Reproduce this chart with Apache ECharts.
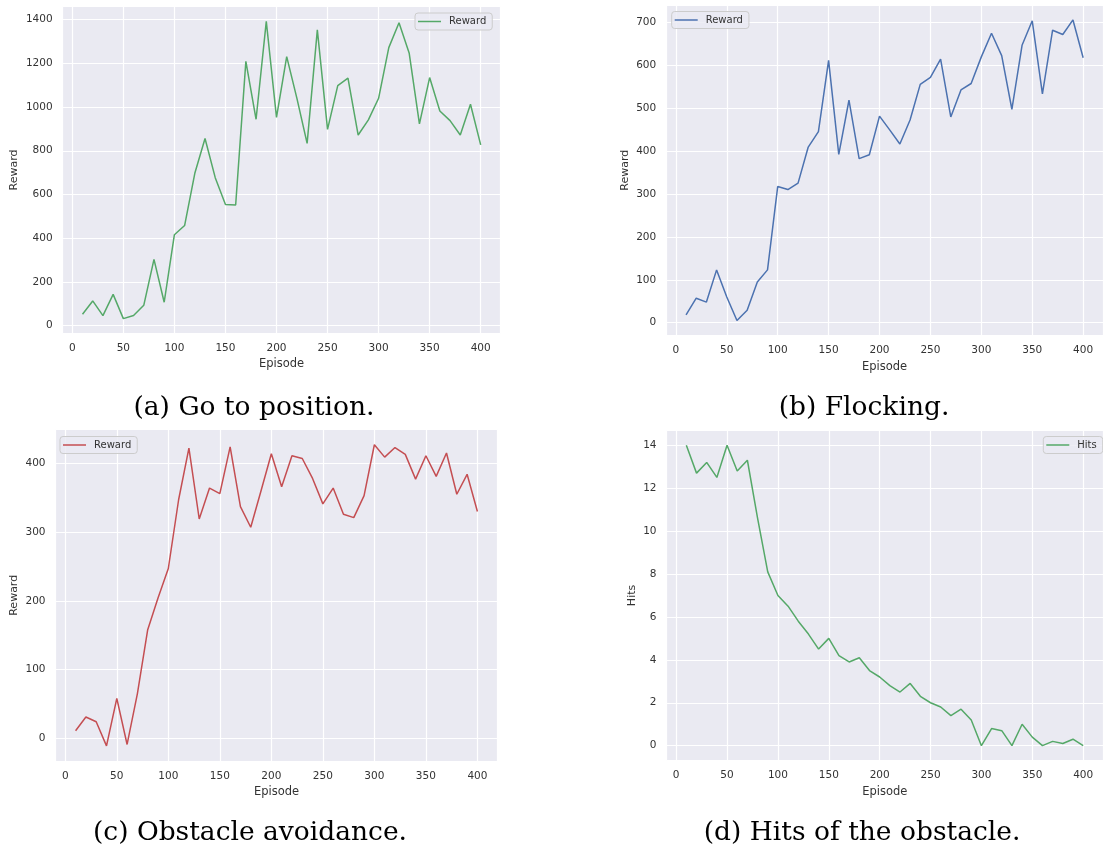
<!DOCTYPE html>
<html>
<head>
<meta charset="utf-8">
<script src="https://cdn.jsdelivr.net/npm/echarts@6/dist/echarts.min.js"></script>
<style>
  html, body { margin: 0; padding: 0; background: #fff; }
  #chart { width: 1103px; height: 850px; }
</style>
</head>
<body>
<div id="chart"></div>
<script>
// episodes 10..400
const episodes = [10, 20, 30, 40, 50, 60, 70, 80, 90, 100,
                  110, 120, 130, 140, 150, 160, 170, 180, 190, 200,
                  210, 220, 230, 240, 250, 260, 270, 280, 290, 300,
                  310, 320, 330, 340, 350, 360, 370, 380, 390, 400];

const rewardGoTo = [52, 113, 46, 143, 32, 46, 93, 303, 107, 416,
                    458, 697, 856, 677, 554, 552, 1209, 944, 1392, 953,
                    1231, 1040, 834, 1353, 898, 1098, 1132, 872, 941, 1040,
                    1272, 1386, 1246, 923, 1135, 982, 938, 872, 1013, 827];

const rewardFlocking = [18, 57, 48, 123, 60, 5, 29, 95, 123, 317,
                        310, 325, 409, 445, 611, 392, 518, 382, 391, 481,
                        449, 416, 472, 555, 571, 614, 479, 542, 557, 619,
                        674, 622, 497, 646, 703, 533, 681, 671, 705, 617];

const rewardObstacle = [11, 31, 24, -11, 58, -9, 65, 158, 204, 247,
                        347, 422, 319, 364, 356, 424, 337, 307, 360, 414,
                        366, 411, 407, 378, 341, 364, 326, 321, 353, 427,
                        409, 423, 413, 377, 411, 381, 415, 355, 384, 330];

const hitsObstacle = [14.0, 12.7, 13.2, 12.5, 14.0, 12.8, 13.3, 10.6, 8.1, 7.0,
                      6.5, 5.8, 5.2, 4.5, 5.0, 4.2, 3.9, 4.1, 3.5, 3.2,
                      2.8, 2.5, 2.9, 2.3, 2.0, 1.8, 1.4, 1.7, 1.2, 0.0,
                      0.8, 0.7, 0.0, 1.0, 0.4, 0.0, 0.2, 0.1, 0.3, 0.0];

const captions = ['(a) Go to position.', '(b) Flocking.', '(c) Obstacle avoidance.', '(d) Hits of the obstacle.'];

const GREEN = '#55a868', BLUE = '#4c72b0', RED = '#c44e52';
const textColor = '#333';

// matplotlib style autoscale: 5% padding on each side
function padded(values) {
    const lo = Math.min(...values), hi = Math.max(...values);
    const m = (hi - lo) * 0.05;
    return [lo - m, hi + m];
}

const panels = [
    { data: rewardGoTo, name: 'Reward', color: GREEN, split: 7, yGap: 43,
      grid: { left: 62.6, top: 6.5, width: 438, height: 327 },
      legend: { left: 415, top: 13 },
      caption: { x: 254, y: 408 } },
    { data: rewardFlocking, name: 'Reward', color: BLUE, split: 8, yGap: 36,
      grid: { left: 666.2, top: 4.9, width: 443.3, height: 330.7 },
      legend: { left: 671.7, top: 11.5 },
      caption: { x: 864, y: 408 } },
    { data: rewardObstacle, name: 'Reward', color: RED, split: 5, yGap: 36,
      grid: { left: 55.5, top: 429.7, width: 442, height: 331.2 },
      legend: { left: 60, top: 436.5 },
      caption: { x: 250, y: 833 } },
    { data: hitsObstacle, name: 'Hits', color: GREEN, split: 8, yGap: 29,
      grid: { left: 666.5, top: 430.2, width: 443, height: 330.5 },
      legend: { left: 1043.3, top: 436.5 },
      caption: { x: 862, y: 833 } }
];

const xExt = padded(episodes);

const option = {
    animation: false,
    backgroundColor: '#fff',
    grid: panels.map(p => Object.assign({
        show: true,
        backgroundColor: '#eaeaf2',
        borderWidth: 0
    }, p.grid)),
    xAxis: panels.map((p, i) => ({
        type: 'value',
        gridIndex: i,
        min: xExt[0],
        max: xExt[1],
        splitNumber: 8,
        name: 'Episode',
        nameLocation: 'middle',
        nameGap: 25,
        nameTextStyle: { color: textColor, fontSize: 11.5, fontFamily: 'DejaVu Sans' },
        axisLine: { show: false },
        axisTick: { show: false },
        axisLabel: {
            color: textColor, fontSize: 10.5, fontFamily: 'DejaVu Sans',
            margin: 9.5, showMinLabel: false, showMaxLabel: false,
            formatter: v => String(v)
        },
        splitLine: { show: true, lineStyle: { color: '#fff', width: 1.2 } }
    })),
    yAxis: panels.map((p, i) => {
        const ext = padded(p.data);
        return {
            type: 'value',
            gridIndex: i,
            min: ext[0],
            max: ext[1],
            splitNumber: p.split,
            name: i === 3 ? 'Hits' : 'Reward',
            nameLocation: 'middle',
            nameGap: p.yGap,
            nameTextStyle: { color: textColor, fontSize: 11, fontFamily: 'DejaVu Sans' },
            axisLine: { show: false },
            axisTick: { show: false },
            axisLabel: {
                color: textColor, fontSize: 10.5, fontFamily: 'DejaVu Sans',
                margin: 10, showMinLabel: false, showMaxLabel: false,
                formatter: v => String(v)
            },
            splitLine: { show: true, lineStyle: { color: '#fff', width: 1.2 } }
        };
    }),
    legend: panels.map(p => ({
        left: p.legend.left,
        top: p.legend.top,
        orient: 'vertical',
        padding: [3.5, 6, 3.5, 3],
        itemWidth: 23,
        itemHeight: 1.5,
        icon: 'rect',
        backgroundColor: 'rgba(234,234,242,0.8)',
        borderColor: '#cccccc',
        borderWidth: 1,
        borderRadius: 3,
        selectedMode: false,
        textStyle: { color: textColor, fontSize: 10, fontFamily: 'DejaVu Sans', padding: [0, 0, 0, 3] },
        data: [{ name: p.name, icon: 'rect', itemStyle: { color: p.color, borderWidth: 0 } }]
    })),
    series: panels.map((p, i) => ({
        type: 'line',
        name: p.name,
        xAxisIndex: i,
        yAxisIndex: i,
        symbol: 'none',
        color: p.color,
        lineStyle: { color: p.color, width: 1.5 },
        data: episodes.map((x, k) => [x, p.data[k]])
    })),
    graphic: panels.map((p, i) => ({
        type: 'text',
        x: p.caption.x,
        y: p.caption.y,
        style: {
            text: captions[i],
            fill: '#000',
            font: '26.5px "DejaVu Serif", serif',
            textAlign: 'center',
            textVerticalAlign: 'middle'
        }
    }))
};

const chart = echarts.init(document.getElementById('chart'));
chart.setOption(option);
</script>
</body>
</html>
